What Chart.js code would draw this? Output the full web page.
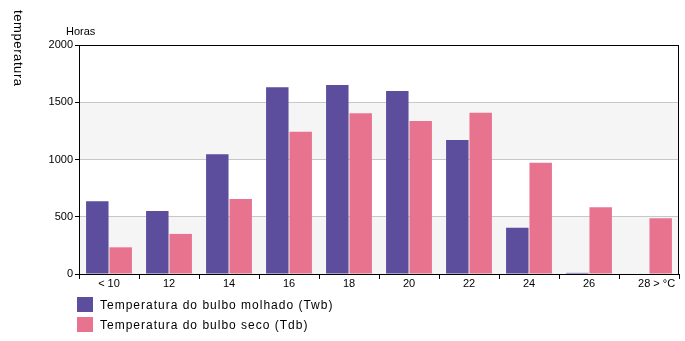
<!DOCTYPE html>
<html>
<head>
<meta charset="utf-8">
<script src="https://cdn.jsdelivr.net/npm/chart.js@4"></script>
<style>
  html, body { margin: 0; padding: 0; background: #fff; }
  #wrap { position: relative; width: 685px; height: 341px; }
  canvas { display: block; }
</style>
</head>
<body>
<div id="wrap"><canvas id="c" width="685" height="341"></canvas></div>
<script>
// Hours per temperature class
const categories = ['< 10', '12', '14', '16', '18', '20', '22', '24', '26', '     28 > °C'];
const wetBulb = [635, 550, 1045, 1630, 1650, 1598, 1170, 405, 10, 0];
const dryBulb = [233, 350, 655, 1243, 1403, 1336, 1409, 972, 582, 486];
const seriesNames = ['Temperatura do bulbo molhado (Twb)', 'Temperatura do bulbo seco (Tdb)'];
const yTicks = [0, 500, 1000, 1500, 2000];

const FONT = 'Liberation Sans';
const PURPLE = '#5d4d9d';
const PINK = '#e8738f';

// Alternating light bands behind the bars
const bandsPlugin = {
  id: 'bands',
  beforeDraw(chart) {
    const { ctx, chartArea: a, scales: { y } } = chart;
    ctx.save();
    ctx.fillStyle = '#f5f5f5';
    for (let i = 0; i < yTicks.length - 1; i += 2) {
      const top = y.getPixelForValue(yTicks[i + 1]);
      const bot = y.getPixelForValue(yTicks[i]);
      ctx.fillRect(a.left, top, a.right - a.left, bot - top);
    }
    ctx.restore();
  }
};

// Black frame, axis captions and legend
const decorPlugin = {
  id: 'decor',
  afterDraw(chart) {
    const { ctx, chartArea: a } = chart;
    ctx.save();
    ctx.strokeStyle = '#000';
    ctx.lineWidth = 1;
    ctx.strokeRect(Math.round(a.left) + 0.5, Math.round(a.top) + 0.5,
                   Math.round(a.right - a.left) - 1, Math.round(a.bottom - a.top));

    ctx.fillStyle = '#000';
    ctx.font = '11px "' + FONT + '"';
    ctx.textBaseline = 'middle';
    ctx.textAlign = 'left';
    ctx.fillText('Horas', 66, 32);

    // vertical caption
    ctx.save();
    ctx.translate(18, 10);
    ctx.rotate(Math.PI / 2);
    ctx.font = '13px "' + FONT + '"';
    ctx.letterSpacing = '0.6px';
    ctx.textAlign = 'left';
    ctx.fillText('temperatura', 0, 0);
    ctx.restore();

    // legend
    const ds = chart.data.datasets;
    ctx.font = '12px "' + FONT + '"';
    ctx.letterSpacing = '1px';
    ds.forEach((d, i) => {
      const y0 = 297 + i * 20;
      ctx.fillStyle = d.backgroundColor;
      ctx.fillRect(77, y0, 16, 15);
      ctx.fillStyle = '#000';
      ctx.fillText(d.label, 100, y0 + 8.5);
    });
    ctx.restore();
  }
};

new Chart(document.getElementById('c'), {
  type: 'bar',
  data: {
    labels: categories,
    datasets: [
      { label: seriesNames[0], data: wetBulb, backgroundColor: PURPLE },
      { label: seriesNames[1], data: dryBulb, backgroundColor: PINK }
    ]
  },
  options: {
    responsive: false,
    animation: false,
    events: [],
    layout: { padding: { left: 0, top: 45, right: 6, bottom: 47 } },
    datasets: { bar: { categoryPercentage: 0.78, barPercentage: 0.96 } },
    plugins: {
      legend: { display: false },
      tooltip: { enabled: false }
    },
    scales: {
      x: {
        offset: true,
        grid: { offset: true, drawOnChartArea: false, tickLength: 5, tickColor: '#000', color: '#000' },
        border: { display: false },
        ticks: { color: '#000', font: { family: FONT, size: 11 }, padding: -2, maxRotation: 0, autoSkip: false },
        afterFit(s) { s.height = 20; }
      },
      y: {
        min: 0, max: 2000,
        afterBuildTicks(s) { s.ticks = yTicks.map(v => ({ value: v })); },
        grid: { color: '#c8c8c8', tickLength: 4, tickColor: '#000' },
        border: { display: false },
        ticks: { color: '#000', font: { family: FONT, size: 11 }, padding: 2, callback: v => String(v) },
        afterFit(s) { s.width = 79; }
      }
    }
  },
  plugins: [bandsPlugin, decorPlugin]
});
</script>
</body>
</html>
